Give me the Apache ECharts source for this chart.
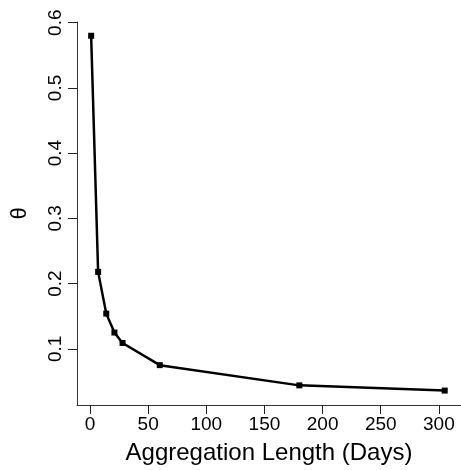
<!DOCTYPE html>
<html>
<head>
<meta charset="utf-8">
<script src="https://cdn.jsdelivr.net/npm/echarts@6/dist/echarts.min.js"></script>
<style>
  html, body { margin: 0; padding: 0; background: #fff; }
  #chart { width: 461px; height: 470px; }
</style>
</head>
<body>
<div id="chart"></div>
<script>
// aggregation length in days and the estimated theta
const days = [1, 7, 14, 21, 28, 60, 180, 305];
const theta = [0.580, 0.218, 0.154, 0.125, 0.109, 0.075, 0.044, 0.036];
const xTicks = [0, 50, 100, 150, 200, 250, 300];
const yTicks = [0.1, 0.2, 0.3, 0.4, 0.5, 0.6];

const font = "'Liberation Sans', Arial, sans-serif";

const chart = echarts.init(document.getElementById("chart"));
chart.setOption({
  animation: false,
  backgroundColor: "#fff",
  grid: { left: 77, right: 0, top: 22, bottom: 65, outerBoundsMode: "none", containLabel: false },
  xAxis: {
    type: "value",
    min: -11.16,
    max: 319,
    name: "Aggregation Length (Days)",
    nameLocation: "middle",
    nameGap: 36,
    nameTextStyle: { fontFamily: font, fontSize: 24, color: "#000" },
    axisLine: { show: true, onZero: false, lineStyle: { color: "#333", width: 1 } },
    axisTick: { show: true, length: 9, customValues: xTicks, lineStyle: { color: "#222", width: 1 } },
    axisLabel: {
      customValues: xTicks,
      margin: 10,
      fontFamily: font,
      fontSize: 19,
      color: "#000"
    },
    splitLine: { show: false }
  },
  yAxis: {
    type: "value",
    min: 0.0139,
    max: 0.6011,
    name: "θ",
    nameLocation: "middle",
    nameRotate: 90,
    nameGap: 46,
    nameTextStyle: { fontFamily: font, fontSize: 22, color: "#000" },
    axisLine: { show: true, onZero: false, lineStyle: { color: "#333", width: 1 } },
    axisTick: { show: true, length: 9, customValues: yTicks, lineStyle: { color: "#222", width: 1 } },
    axisLabel: {
      customValues: yTicks,
      rotate: 90,
      margin: 12,
      fontFamily: font,
      fontSize: 19,
      color: "#000",
      formatter: v => v.toFixed(1)
    },
    splitLine: { show: false }
  },
  series: [
    {
      type: "line",
      data: days.map((d, i) => [d, theta[i]]),
      symbol: "rect",
      symbolSize: 6,
      showAllSymbol: true,
      lineStyle: { color: "#000", width: 2.5 },
      itemStyle: { color: "#000" }
    }
  ]
});
</script>
</body>
</html>
